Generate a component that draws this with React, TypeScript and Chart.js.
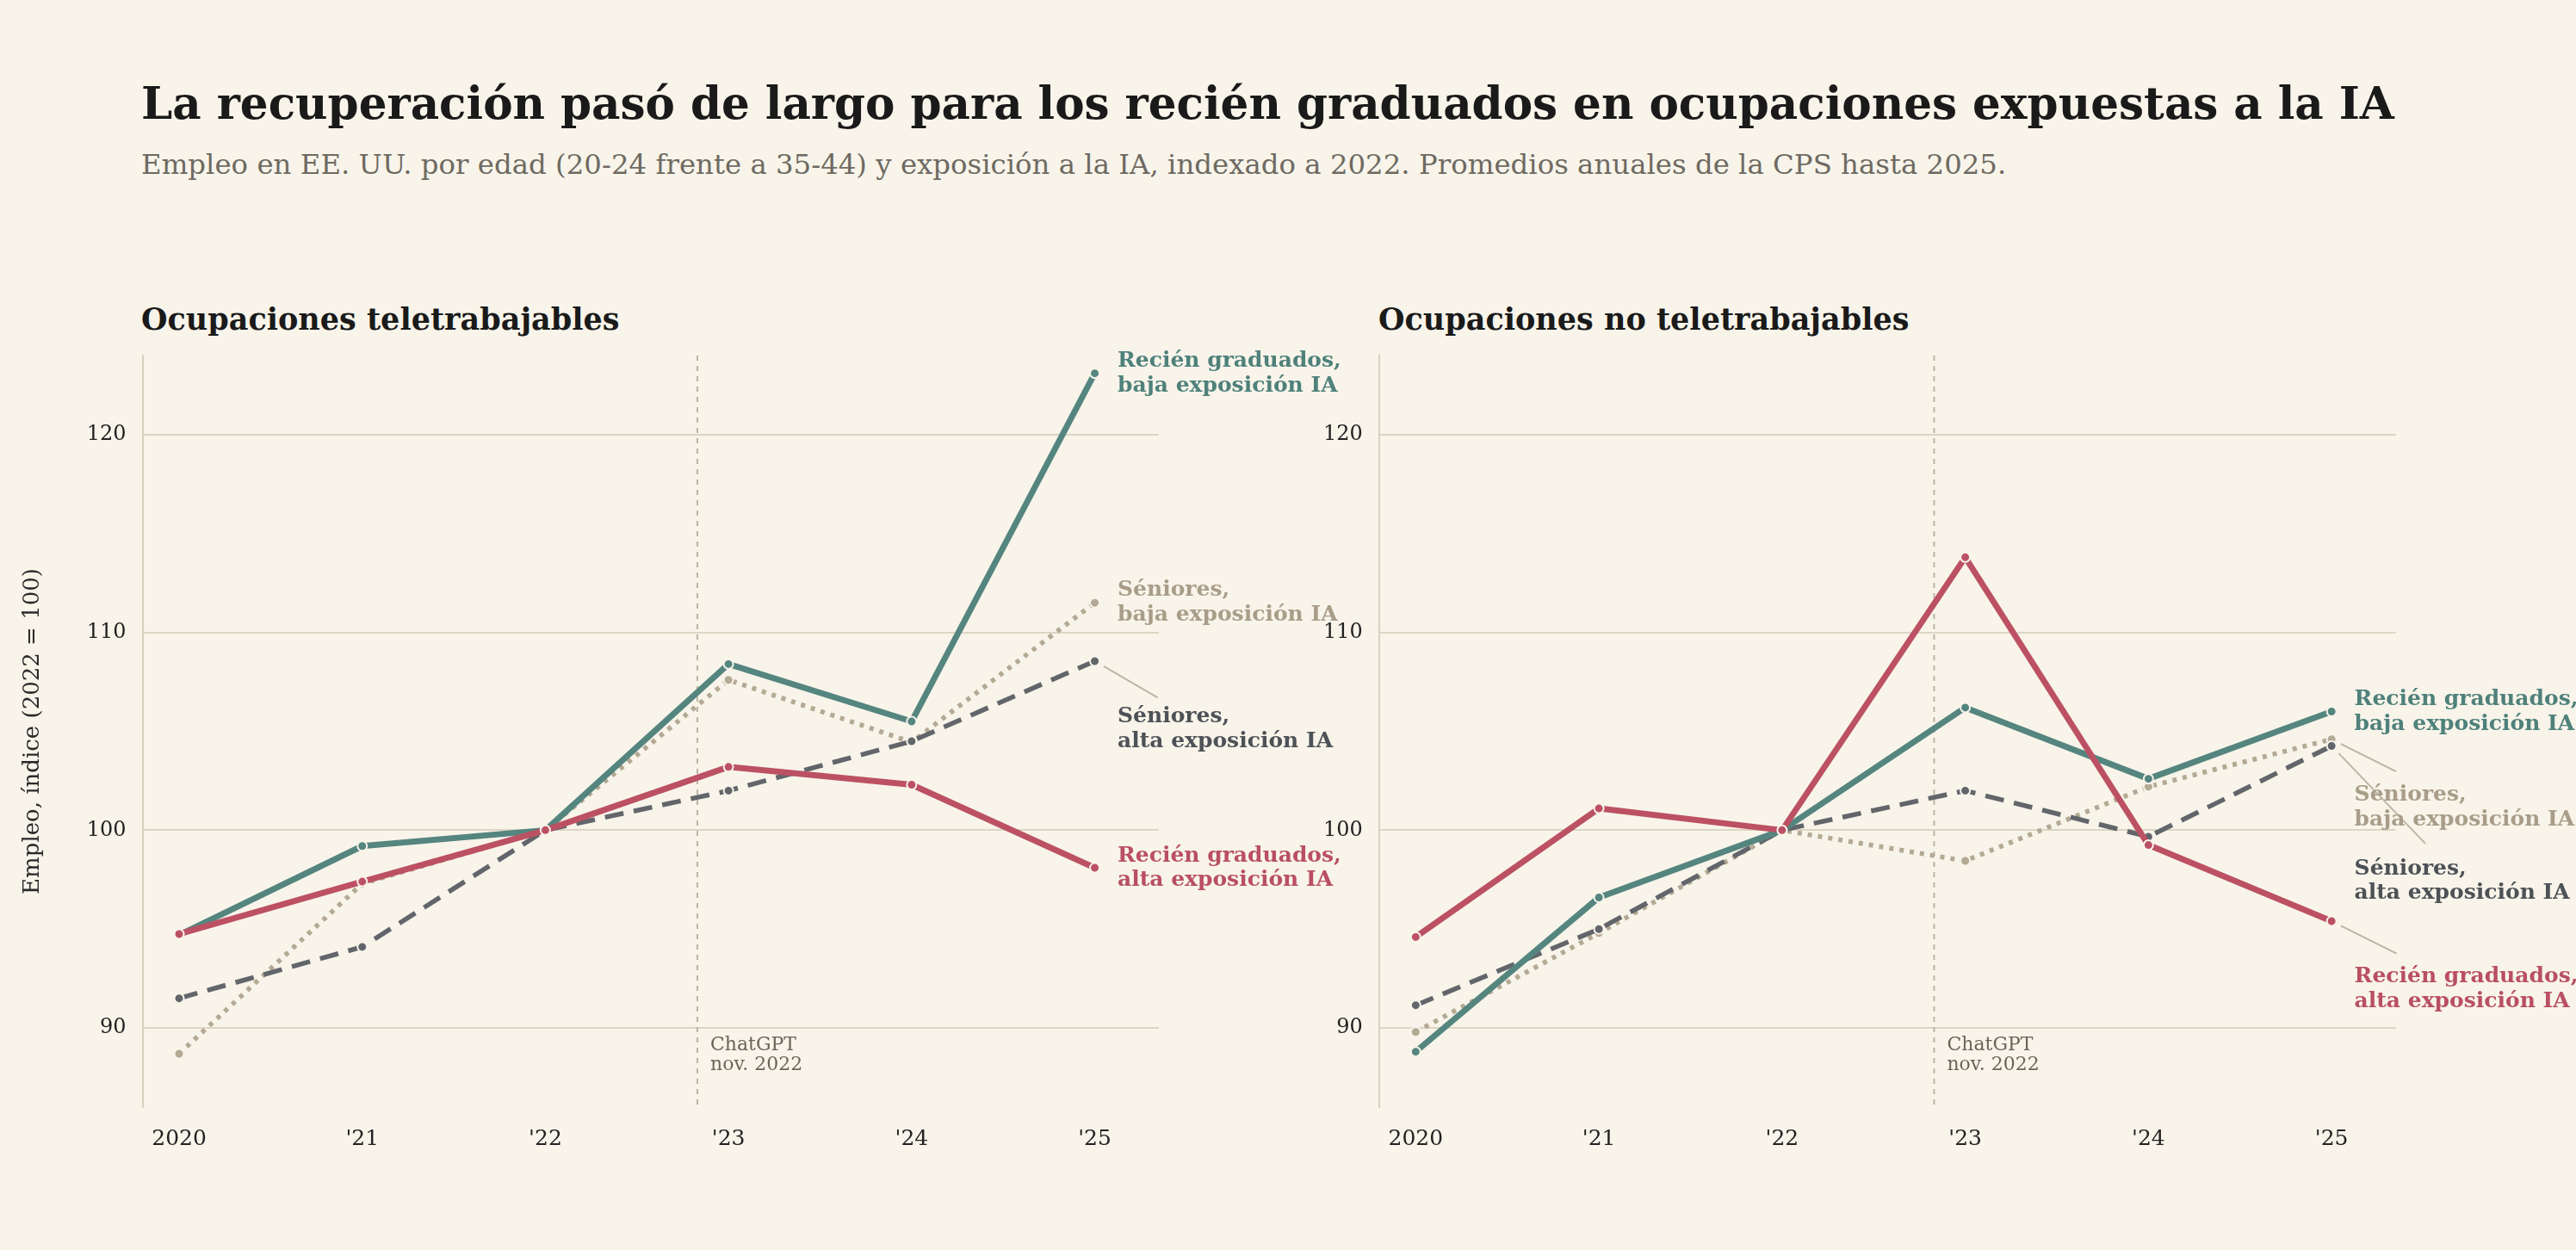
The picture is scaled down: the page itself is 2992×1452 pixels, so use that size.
import React, { useEffect, useRef } from 'react';
import { Chart, registerables } from 'chart.js';

Chart.register(...registerables);

// ---- data ----
const years = [2020, 2021, 2022, 2023, 2024, 2025];
const yearLabels = ['2020', "'21", "'22", "'23", "'24", "'25"];
const yTicks = [90, 100, 110, 120];
const chatgptDate = 2022.83;

// Ocupaciones teletrabajables
const teleRecentLow = [94.7, 99.2, 100, 108.4, 105.5, 123.1];
const teleRecentHigh = [94.75, 97.4, 100, 103.2, 102.3, 98.1];
const teleSeniorHigh = [91.5, 94.1, 100, 102.0, 104.5, 108.55];
const teleSeniorLow = [88.7, 97.3, 100, 107.6, 104.45, 111.5];

// Ocupaciones no teletrabajables
const nonRecentLow = [88.8, 96.6, 100, 106.2, 102.6, 106.0];
const nonRecentHigh = [94.6, 101.1, 100, 113.8, 99.25, 95.4];
const nonSeniorHigh = [91.15, 95.0, 100, 102.0, 99.67, 104.26];
const nonSeniorLow = [89.8, 94.8, 100, 98.45, 102.2, 104.6];

const seriesLabels: any = {
  recentHigh: ['Recién graduados,', 'alta exposición IA'],
  recentLow: ['Recién graduados,', 'baja exposición IA'],
  seniorHigh: ['Séniores,', 'alta exposición IA'],
  seniorLow: ['Séniores,', 'baja exposición IA'],
};

// ---- styles ----
const BG = '#f8f4ea';
const FONT = '"DejaVu Serif", Georgia, serif';
const styles: any = {
  recentHigh: { color: '#bc5164', text: '#b94f62', width: 7, dash: [] },
  recentLow: { color: '#55857f', text: '#4f817b', width: 7, dash: [] },
  seniorHigh: { color: '#62666b', text: '#4d5257', width: 5.5, dash: [22, 12] },
  seniorLow: { color: '#b4a994', text: '#a89d88', width: 5.5, dash: [5, 7] },
};
// first = drawn on top
const drawOrder = ['recentHigh', 'recentLow', 'seniorHigh', 'seniorLow'];

const panels = [
  {
    key: 'tele',
    title: 'Ocupaciones teletrabajables',
    series: { recentHigh: teleRecentHigh, recentLow: teleRecentLow, seniorHigh: teleSeniorHigh, seniorLow: teleSeniorLow },
    labelAt: { recentLow: 123.43, seniorLow: 111.84, seniorHigh: 105.45, recentHigh: 98.42 },
    leaders: { seniorHigh: [46.6, -28.7] },
    box: { left: 0, width: 1600, yAxisWidth: 165.5, padRight: 254 },
    titleLeft: 164,
    yTitle: true,
  },
  {
    key: 'non',
    title: 'Ocupaciones no teletrabajables',
    series: { recentHigh: nonRecentHigh, recentLow: nonRecentLow, seniorHigh: nonSeniorHigh, seniorLow: nonSeniorLow },
    labelAt: { recentLow: 106.32, seniorLow: 101.49, seniorHigh: 97.76, recentHigh: 92.31 },
    leaders: { seniorLow: [48.4, -34], seniorHigh: [82.4, -36], recentHigh: [49, -33.4] },
    box: { left: 1440, width: 1552, yAxisWidth: 161.8, padRight: 209.4 },
    titleLeft: 1601,
    yTitle: false,
  },
];

function decorPlugin(panel: any) {
  return {
    id: 'decor_' + panel.key,
    beforeDatasetsDraw(chart: any) {
      const { ctx, chartArea, scales } = chart;
      const x = scales.x.getPixelForValue(chatgptDate);
      ctx.save();
      ctx.strokeStyle = '#bdb4a3';
      ctx.lineWidth = 2;
      ctx.setLineDash([6, 6]);
      ctx.beginPath();
      ctx.moveTo(x, chartArea.top);
      ctx.lineTo(x, chartArea.bottom);
      ctx.stroke();
      ctx.setLineDash([]);
      const y90 = scales.y.getPixelForValue(90);
      ctx.fillStyle = '#6b6559';
      ctx.font = '22px ' + FONT;
      ctx.textAlign = 'left';
      ctx.textBaseline = 'alphabetic';
      ctx.fillText('ChatGPT', x + 15, y90 + 26);
      ctx.fillText('nov. 2022', x + 15, y90 + 49);
      ctx.restore();
    },
    afterDatasetsDraw(chart: any) {
      const { ctx, chartArea, scales } = chart;
      const lx = chartArea.right - 48;
      ctx.save();
      drawOrder.forEach((k) => {
        const vals = panel.series[k];
        const px = scales.x.getPixelForValue(years[years.length - 1]);
        const py = scales.y.getPixelForValue(vals[vals.length - 1]);
        const by = scales.y.getPixelForValue(panel.labelAt[k]);
        const lead = panel.leaders[k];
        if (lead) {
          const ex = lx + lead[0];
          const ey = by + lead[1];
          const d = Math.hypot(ex - px, ey - py);
          const sx = px + ((ex - px) / d) * 12;
          const sy = py + ((ey - py) / d) * 12;
          ctx.strokeStyle = '#bdb5a4';
          ctx.lineWidth = 2;
          ctx.beginPath();
          ctx.moveTo(sx, sy);
          ctx.lineTo(ex, ey);
          ctx.stroke();
        }
        ctx.fillStyle = styles[k].text;
        ctx.font = 'bold 25px ' + FONT;
        ctx.textAlign = 'left';
        ctx.textBaseline = 'alphabetic';
        seriesLabels[k].forEach((line: string, i: number) => ctx.fillText(line, lx, by + i * 28.5));
      });
      if (panel.yTitle) {
        ctx.translate(38, (chartArea.top + chartArea.bottom) / 2);
        ctx.rotate(-Math.PI / 2);
        ctx.fillStyle = '#2a2a2a';
        ctx.font = '26px ' + FONT;
        ctx.textAlign = 'center';
        ctx.textBaseline = 'middle';
        ctx.fillText('Empleo, índice (2022 = 100)', 0, 0);
      }
      ctx.restore();
    },
  };
}

function Panel({ panel }: any) {
  const ref = useRef<HTMLCanvasElement>(null);

  useEffect(() => {
    if (!ref.current) return;
    const chart = new Chart(ref.current, {
      type: 'line',
      data: {
        datasets: drawOrder.map((k) => ({
          label: seriesLabels[k].join(' '),
          data: years.map((yr, i) => ({ x: yr, y: panel.series[k][i] })),
          borderColor: styles[k].color,
          borderWidth: styles[k].width,
          borderDash: styles[k].dash,
          borderJoinStyle: 'round' as const,
          borderCapStyle: 'butt' as const,
          pointRadius: 5.5,
          pointBorderWidth: 2,
          pointBackgroundColor: styles[k].color,
          pointBorderColor: BG,
          tension: 0,
        })),
      },
      options: {
        animation: false,
        responsive: true,
        maintainAspectRatio: false,
        events: [],
        layout: { padding: { top: 13, right: panel.box.padRight, bottom: 0, left: 0 } },
        plugins: { legend: { display: false }, tooltip: { enabled: false }, title: { display: false } },
        scales: {
          x: {
            type: 'linear',
            min: 2019.8,
            max: 2025.35,
            afterBuildTicks: (s: any) => { s.ticks = years.map((v) => ({ value: v })); },
            afterFit: (s: any) => { s.height = 114; s.paddingLeft = 0; s.paddingRight = 0; },
            grid: { display: false, drawTicks: false },
            border: { display: false },
            ticks: {
              autoSkip: false,
              maxRotation: 0,
              padding: 22,
              color: '#222',
              font: { family: FONT, size: 25 },
              callback: (v: any) => yearLabels[years.indexOf(Number(v))] ?? '',
            },
          },
          y: {
            min: 86,
            max: 124,
            afterBuildTicks: (s: any) => { s.ticks = yTicks.map((v) => ({ value: v })); },
            afterFit: (s: any) => { s.width = panel.box.yAxisWidth; s.paddingTop = 0; s.paddingBottom = 0; },
            grid: { color: '#ddd5c4', lineWidth: 2, drawTicks: false },
            border: { display: true, color: '#d8d0bf', width: 2 },
            ticks: { padding: 19, color: '#222', font: { family: FONT, size: 24 } },
          },
        },
      },
      plugins: [decorPlugin(panel)],
    });
    return () => chart.destroy();
  }, [panel]);

  return (
    <div style={{ position: 'absolute', left: panel.box.left, top: 400, width: panel.box.width, height: 1000 }}>
      <canvas ref={ref}></canvas>
    </div>
  );
}

export default function App() {
  return (
    <div style={{ position: 'fixed', left: 0, top: 0, width: 2992, height: 1452, background: BG, overflow: 'hidden', fontFamily: FONT }}>
      <div style={{ position: 'absolute', left: 164, top: 94, fontSize: 51.6, lineHeight: '52px', fontWeight: 'bold', color: '#1a1a1a', whiteSpace: 'nowrap' }}>
        La recuperación pasó de largo para los recién graduados en ocupaciones expuestas a la IA
      </div>
      <div style={{ position: 'absolute', left: 164, top: 175, fontSize: 32.4, lineHeight: '32px', color: '#6e6a62', whiteSpace: 'nowrap' }}>
        Empleo en EE. UU. por edad (20-24 frente a 35-44) y exposición a la IA, indexado a 2022. Promedios anuales de la CPS hasta 2025.
      </div>
      {panels.map((p) => (
        <div key={p.key + 't'} style={{ position: 'absolute', left: p.titleLeft, top: 353, fontSize: 35, lineHeight: '35px', fontWeight: 'bold', color: '#1a1a1a', whiteSpace: 'nowrap' }}>
          {p.title}
        </div>
      ))}
      {panels.map((p) => <Panel key={p.key} panel={p} />)}
    </div>
  );
}
